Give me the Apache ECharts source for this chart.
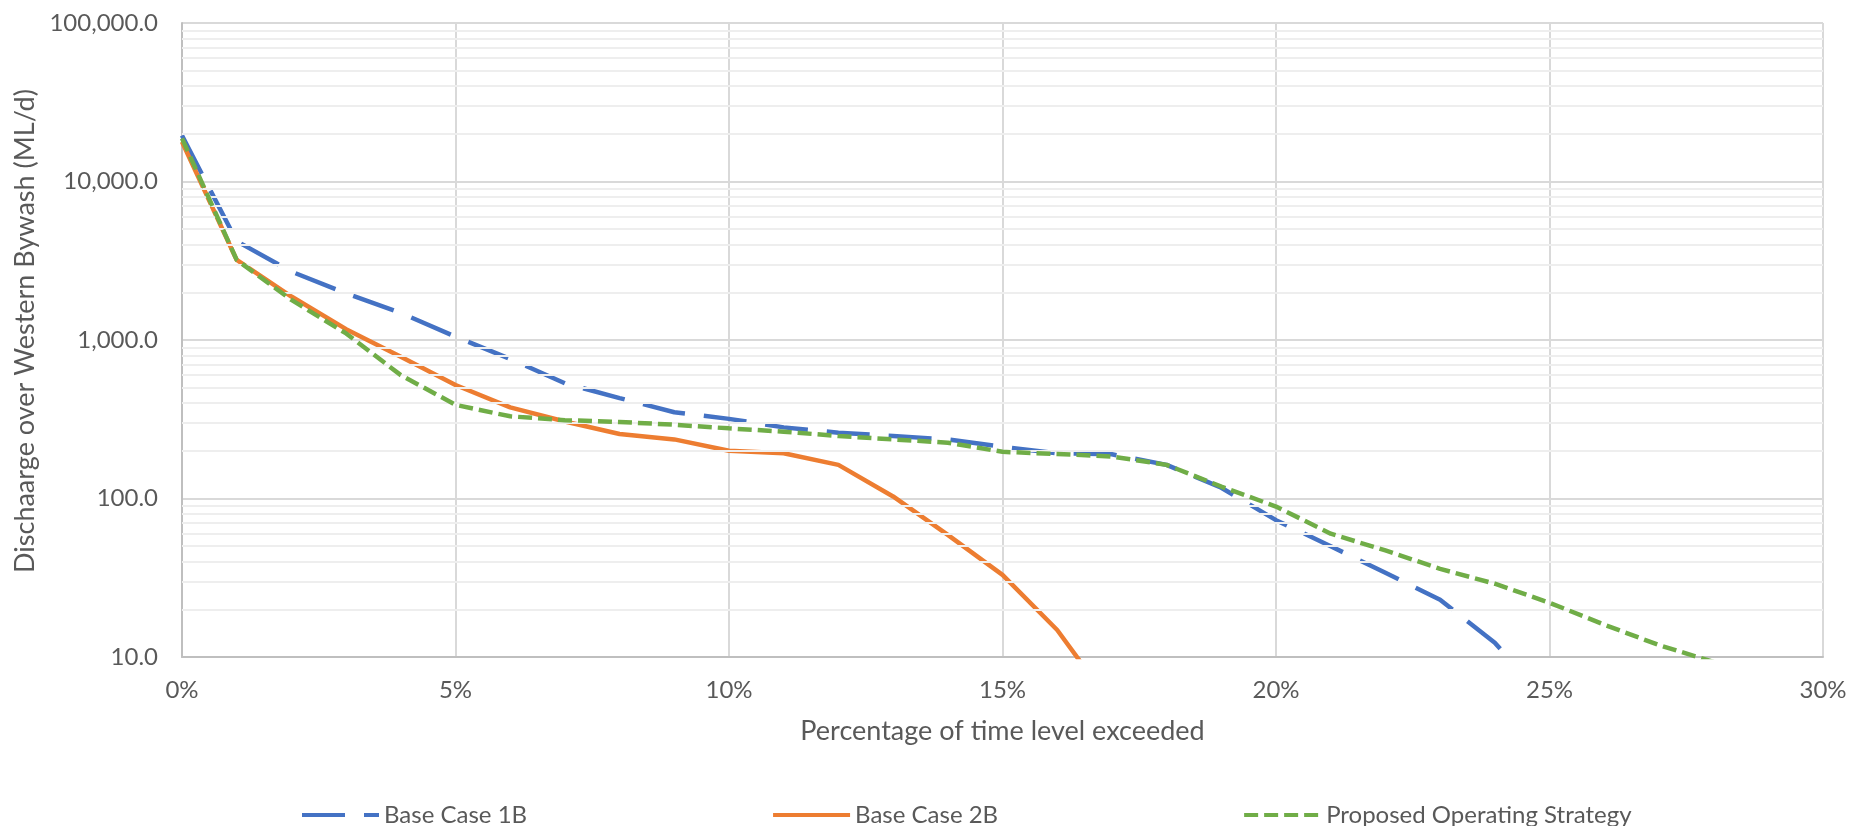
<!DOCTYPE html>
<html>
<head>
<meta charset="utf-8">
<script src="https://cdn.jsdelivr.net/npm/echarts@6/dist/echarts.min.js"></script>
<style>
html, body { margin: 0; padding: 0; background: #fff; }
#chart { width: 1865px; height: 826px; }
</style>
</head>
<body>
<div id="chart"></div>
<script>
// percentage of time level exceeded (x), one point per 1%
var pct = [0, 1, 2, 3, 4, 5, 6, 7, 8, 9, 10, 11, 12, 13, 14, 15, 16, 17, 18, 19, 20, 21, 22, 23, 24, 25, 26, 27, 28];

// discharge in ML/d
var baseCase1B = [19500, 4200, 2700, 1970, 1480, 1050, 760, 533, 430, 350, 318, 281, 260, 248, 236, 212, 193, 190, 163, 117, 73, 50, 34, 23, 12.3, 5];
var baseCase2B = [17800, 3200, 1880, 1170, 785, 520, 376, 306, 255, 236, 200, 193, 163, 103, 59, 33, 14.8, 5];
var proposed = [18700, 3200, 1790, 1100, 600, 390, 330, 312, 304, 292, 277, 264, 248, 236, 225, 197, 191, 184, 163, 119, 89, 60, 47, 36, 29, 22, 16, 11.9, 9.3];

var seriesNames = ['Base Case 1B', 'Base Case 2B', 'Proposed Operating Strategy'];
var yDecades = [10, 100, 1000, 10000];

function pairs(vals) {
    return vals.map(function (v, i) { return [pct[i], v]; });
}

// minor gridlines at 2..9 x each decade
var minorLevels = [];
yDecades.forEach(function (d) {
    for (var k = 2; k <= 9; k++) minorLevels.push({ yAxis: d * k });
});

var labelColor = '#595959';
var font = 'Lato';

var chart = echarts.init(document.getElementById('chart'));

var option = {
    animation: false,
    backgroundColor: '#ffffff',
    grid: { left: 182, right: 42, top: 23, bottom: 169 },
    legend: {
        data: seriesNames,
        left: 295,
        top: 798,
        itemWidth: 77,
        itemHeight: 14,
        itemGap: 244,
        itemStyle: { opacity: 0 },
        lineStyle: { width: 4 },
        textStyle: { fontFamily: font, fontSize: 24, color: labelColor }
    },
    xAxis: {
        type: 'value',
        min: 0,
        max: 30,
        interval: 5,
        name: 'Percentage of time level exceeded',
        nameLocation: 'middle',
        nameGap: 61,
        nameTextStyle: { fontFamily: font, fontSize: 27, color: labelColor },
        axisLine: { show: true, lineStyle: { color: '#bfbfbf', width: 2 } },
        axisTick: { show: false },
        axisLabel: {
            margin: 21,
            fontFamily: font, fontSize: 24, color: labelColor,
            formatter: function (v) { return v + '%'; }
        },
        splitLine: { show: true, lineStyle: { color: '#d9d9d9', width: 2 } }
    },
    yAxis: {
        type: 'log',
        logBase: 10,
        min: 10,
        max: 100000,
        name: 'Dischaarge over Western Bywash (ML/d)',
        nameLocation: 'middle',
        nameGap: 137,
        nameTextStyle: { fontFamily: font, fontSize: 27, color: labelColor, padding: [0, 0, 0, 18] },
        axisLine: { show: true, lineStyle: { color: '#bfbfbf', width: 2 } },
        axisTick: { show: false },
        axisLabel: {
            margin: 24,
            fontFamily: font, fontSize: 24, color: labelColor,
            formatter: function (v) {
                return Number(v).toLocaleString('en-US', { minimumFractionDigits: 1, maximumFractionDigits: 1 });
            }
        },
        splitLine: { show: true, lineStyle: { color: '#d9d9d9', width: 2 } }
    },
    series: [
        {
            name: '__minor',
            type: 'line',
            data: [],
            z: 1,
            silent: true,
            markLine: {
                silent: true,
                symbol: 'none',
                label: { show: false },
                lineStyle: { color: '#eeeeee', width: 2, type: 'solid' },
                data: minorLevels
            }
        },
        {
            name: seriesNames[0],
            type: 'line',
            data: pairs(baseCase1B),
            symbol: 'none',
            z: 3,
            lineStyle: { color: '#4472C4', width: 4.5, type: [43, 19] },
            itemStyle: { color: '#4472C4' }
        },
        {
            name: seriesNames[1],
            type: 'line',
            data: pairs(baseCase2B),
            symbol: 'none',
            z: 4,
            lineStyle: { color: '#ED7D31', width: 4.5, type: 'solid' },
            itemStyle: { color: '#ED7D31' }
        },
        {
            name: seriesNames[2],
            type: 'line',
            data: pairs(proposed),
            symbol: 'none',
            z: 5,
            lineStyle: { color: '#70AD47', width: 4.5, type: [14, 6] },
            itemStyle: { color: '#70AD47' }
        }
    ]
};

chart.setOption(option);
</script>
</body>
</html>
